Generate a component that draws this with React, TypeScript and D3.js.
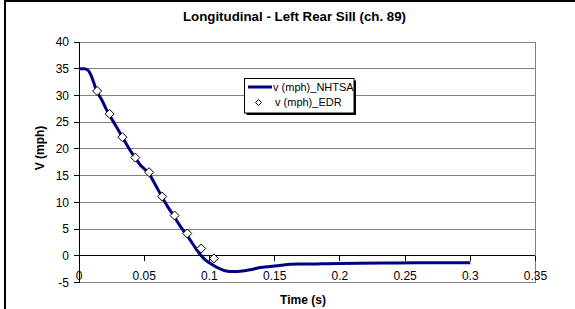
import React from "react";
import * as d3 from "d3";

const title = "Longitudinal - Left Rear Sill (ch. 89)";
const xTitle = "Time (s)";
const yTitle = "V (mph)";
const xTicks = [0, 0.05, 0.1, 0.15, 0.2, 0.25, 0.3, 0.35];
const yTicks = [-5, 0, 5, 10, 15, 20, 25, 30, 35, 40];
const seriesNames = ["v (mph)_NHTSA", "v (mph)_EDR"];

const nhtsaTime = [0, 0.004, 0.007, 0.009, 0.011, 0.0136, 0.0174, 0.0212, 0.0263, 0.03, 0.034, 0.038, 0.043, 0.047, 0.0535, 0.0583, 0.0637, 0.068, 0.0731, 0.078, 0.0828, 0.087, 0.0928, 0.0975, 0.1005, 0.1045, 0.1082, 0.112, 0.1158, 0.12, 0.1235, 0.1312, 0.1388, 0.1465, 0.154, 0.1619, 0.1695, 0.18, 0.19, 0.2, 0.215, 0.2334, 0.259, 0.28, 0.3];
const nhtsaV = [35.0, 35.0, 34.7, 33.9, 32.6, 30.8, 29.2, 27.3, 25.1, 23.6, 21.9, 20.2, 18.3, 17.0, 15.4, 13.4, 11.0, 9.2, 7.3, 5.4, 3.8, 2.3, 0.3, -0.9, -1.4, -2.0, -2.45, -2.8, -2.93, -2.95, -2.9, -2.62, -2.2, -2.0, -1.81, -1.6, -1.56, -1.55, -1.48, -1.44, -1.4, -1.37, -1.31, -1.3, -1.31];

const edrTime = [0.0139, 0.0235, 0.0333, 0.0432, 0.0537, 0.0638, 0.0733, 0.083, 0.0937, 0.1034];
const edrV = [30.84, 26.54, 22.19, 18.37, 15.64, 11.08, 7.53, 4.17, 1.36, -0.5];

const FONT = "'Liberation Sans', Arial, sans-serif";

export default function App() {
  const left = 79, right = 535.5, top = 42, bottom = 282.5;
  const x = d3.scaleLinear().domain([0, 0.35]).range([left, right]);
  const y = d3.scaleLinear().domain([-5, 40]).range([bottom, top]);
  const line = d3
    .line<number>()
    .x((_, i) => x(nhtsaTime[i]))
    .y((d) => y(d))
    .curve(d3.curveMonotoneX);
  const diamond = (cx: number, cy: number, r: number) =>
    `M${cx},${cy - r}L${cx + r},${cy}L${cx},${cy + r}L${cx - r},${cy}Z`;

  const lg = { x: 244.5, y: 78.5, w: 109.5, h: 34.5 };

  return (
    <svg width={575} height={309} style={{ position: "absolute", left: 0, top: 0, background: "#fff" }}>
      <rect x={0} y={0} width={575} height={309} fill="#fff" />
      <rect x={5} y={1} width={700} height={500} fill="none" stroke="#000" strokeWidth={2} />
      <text x={294.5} y={21} textAnchor="middle" fontFamily={FONT} fontWeight="bold" fontSize={13.3} fill="#000">
        {title}
      </text>
      {/* gridlines */}
      {yTicks.map((t) => (
        <line key={"g" + t} x1={left} x2={right} y1={y(t)} y2={y(t)} stroke={t === 0 ? "#000" : "#808080"} strokeWidth={1} shapeRendering="crispEdges" />
      ))}
      {/* plot border */}
      <rect x={left} y={top} width={right - left} height={bottom - top} fill="none" stroke="#808080" strokeWidth={1} shapeRendering="crispEdges" />
      {/* y axis */}
      <line x1={left} x2={left} y1={top} y2={bottom} stroke="#000" strokeWidth={1} shapeRendering="crispEdges" />
      {yTicks.map((t) => (
        <g key={"yt" + t}>
          <line x1={left - 5} x2={left} y1={y(t)} y2={y(t)} stroke="#000" shapeRendering="crispEdges" />
          <text x={69} y={y(t)} dy="0.36em" textAnchor="end" fontFamily={FONT} fontSize={12} fill="#000">
            {t}
          </text>
        </g>
      ))}
      {/* x axis at y=0 */}
      {xTicks.map((t) => (
        <g key={"xt" + t}>
          <line x1={x(t)} x2={x(t)} y1={y(0)} y2={y(0) + 5} stroke="#000" shapeRendering="crispEdges" />
          <text x={x(t)} y={280} textAnchor="middle" fontFamily={FONT} fontSize={12} fill="#000">
            {t}
          </text>
        </g>
      ))}
      <text x={303} y={304} textAnchor="middle" fontFamily={FONT} fontWeight="bold" fontSize={12} fill="#000">
        {xTitle}
      </text>
      <text transform={`translate(44,148) rotate(-90)`} textAnchor="middle" fontFamily={FONT} fontWeight="bold" fontSize={12} fill="#000">
        {yTitle}
      </text>
      {/* series */}
      <path d={line(nhtsaV) || ""} fill="none" stroke="#000080" strokeWidth={3} strokeLinejoin="round" />
      {edrV.map((v, i) => (
        <path key={"d" + i} d={diamond(x(edrTime[i]), y(v), 4.5)} fill="#fff" stroke="#000" strokeWidth={1} />
      ))}
      {/* legend */}
      <rect x={lg.x + 2} y={lg.y + 2} width={lg.w} height={lg.h} fill="#000" />
      <rect x={lg.x} y={lg.y} width={lg.w} height={lg.h} fill="#fff" stroke="#000" strokeWidth={1} />
      <line x1={248} x2={272} y1={87} y2={87} stroke="#000080" strokeWidth={3} />
      <text x={273} y={87} dy="0.36em" fontFamily={FONT} fontSize={11} fill="#000">
        {seriesNames[0]}
      </text>
      <path d={diamond(258.5, 102.5, 3)} fill="#fff" stroke="#000" strokeWidth={1} />
      <text x={275} y={102.5} dy="0.36em" fontFamily={FONT} fontSize={11} fill="#000">
        {seriesNames[1]}
      </text>
    </svg>
  );
}
